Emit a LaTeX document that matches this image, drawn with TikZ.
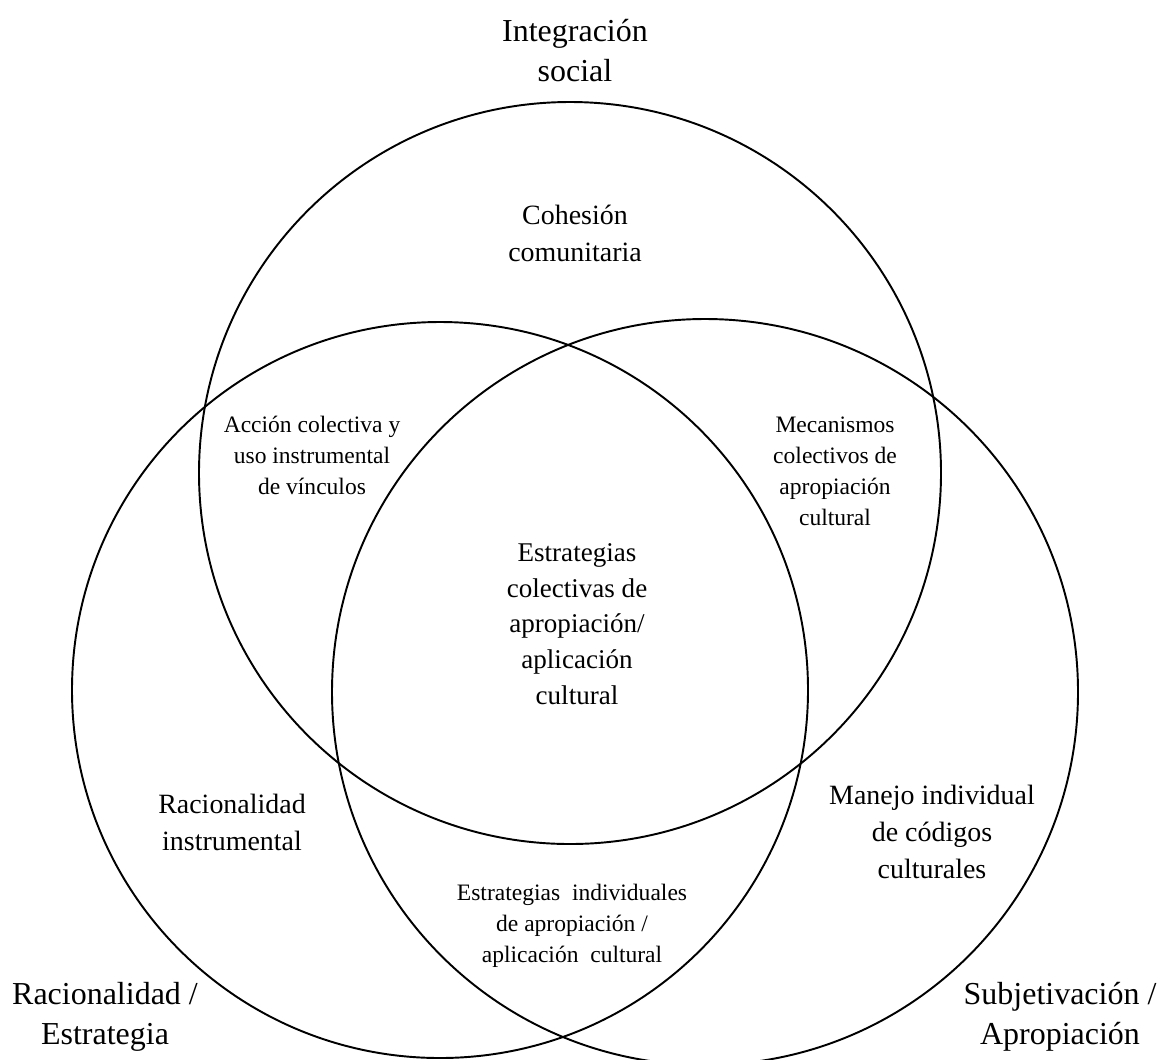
\documentclass[tikz,border=0pt]{standalone}
\usepackage{fontspec}
\setmainfont{Liberation Serif}

\begin{document}
\begin{tikzpicture}[x=0.02cm, y=-0.02cm,
    halmaz/.style={line width=1.1pt},
    nagy/.style={align=center, font=\fontsize{18.2}{22.8}\selectfont},
    kozep/.style={align=center, font=\fontsize{15.9}{21}\selectfont},
    belso/.style={align=center, font=\fontsize{15.4}{20.4}\selectfont},
    kicsi/.style={align=center, font=\fontsize{13.4}{17.6}\selectfont}]
    \useasboundingbox (0,0) rectangle (1162,1059);

    % --- Three circles ---
    \draw[halmaz] (570,473) circle (371);   % integration
    \draw[halmaz] (440,690) circle (368);   % rationality
    \draw[halmaz] (705,692) circle (373);   % subjectivation

    % --- Outer labels ---
    \node[nagy] (integ) at (575,51) {Integración\\social};
    \node[nagy] (racio) at (105,1017) {Racionalidad /\\Estrategia};
    \node[nagy] (szubj) at (1060,1017) {Subjetivación /\\Apropiación};

    % --- Single regions ---
    \node[kozep] (kohez) at (575,233) {Cohesión\\comunitaria};
    \node[kozep] (instr) at (232,822) {Racionalidad\\instrumental};
    \node[kozep] (manejo) at (932,832) {Manejo individual\\de códigos\\culturales};

    % --- Overlaps ---
    \node[kicsi] (accion) at (312,455) {Acción colectiva y\\uso instrumental\\de vínculos};
    \node[kicsi] (mecan) at (835,471) {Mecanismos\\colectivos de\\apropiación\\cultural};
    \node[kicsi] (indiv) at (572,926) {Estrategias~ individuales\\de apropiación /\\aplicación~ cultural};

    % --- Centre ---
    \node[belso] (kozos) at (577,624) {Estrategias\\colectivas de\\apropiación/\\aplicación\\cultural};
\end{tikzpicture}
\end{document}
